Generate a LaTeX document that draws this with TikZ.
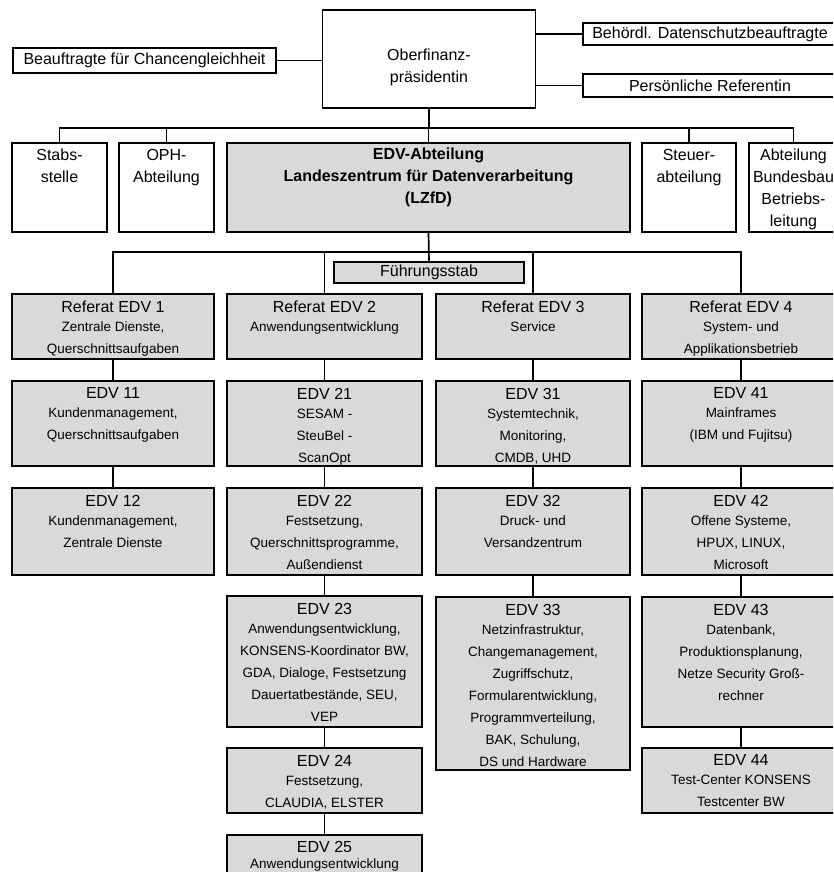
\documentclass[tikz,border=0pt]{standalone}
\usepackage{fontspec}
\setmainfont{Liberation Sans}
\definecolor{boxgray}{RGB}{217,217,217}
\newcommand{\hd}[1]{{\fontsize{16}{22}\selectfont #1}}
\begin{document}
\begin{tikzpicture}[x=1pt, y=-1pt, line width=1.7pt, font=\fontsize{16}{22}\selectfont,
  box/.style={draw, anchor=north, inner sep=0pt, outer sep=0pt},
  unit/.style={box, fill=boxgray},
  big/.style={anchor=north, align=center, inner sep=0pt, yshift=-5pt, font=\fontsize{16}{22}\selectfont},
  txt/.style={anchor=north, align=center, inner sep=0pt, yshift=-6pt, font=\fontsize{13.5}{22}\selectfont}]
\useasboundingbox (0,0) rectangle (833,872);
\clip (0,0) rectangle (833,872);
\node[box, minimum width=213, minimum height=98, label={[big, yshift=-33pt]north:{Oberfinanz-\\präsidentin}}] (ofp) at (429,10) {};
\node[box, minimum width=263, minimum height=25] (beauf) at (144.5,48) {Beauftragte für Chancengleichheit};
\node[box, minimum width=254, minimum height=22] (behoerdl) at (710,23) {Behördl. Datenschutzbeauftragte};
\node[box, minimum width=254, minimum height=23] (pers) at (710,74) {Persönliche Referentin};
\node[box, minimum width=95, minimum height=89, label={[big]north:{Stabs-\\stelle}}] (stab) at (59.5,143) {};
\node[box, minimum width=95, minimum height=89, label={[big]north:{OPH-\\Abteilung}}] (oph) at (166.5,143) {};
\node[unit, minimum width=403, minimum height=89, label={[big, yshift=1pt]north:{\bfseries EDV-Abteilung\\\bfseries Landeszentrum für Datenverarbeitung\\\bfseries (LZfD)}}] (edv) at (428.5,143) {};
\node[box, minimum width=94, minimum height=89, label={[big]north:{Steuer-\\abteilung}}] (steuer) at (689,143) {};
\node[box, minimum width=89, minimum height=89, label={[big]north:{Abteilung\\Bundesbau\\Betriebs-\\leitung}}] (bund) at (793.5,143) {};
\node[unit, minimum width=190, minimum height=21] (fuehr) at (429,262) {Führungsstab};
\node[unit, minimum width=202, minimum height=65, label={[txt]north:{\hd{Referat EDV 1}\\[-3pt]Zentrale Dienste,\\Querschnittsaufgaben}}] (ref1) at (113,294) {};
\node[unit, minimum width=195, minimum height=65, label={[txt]north:{\hd{Referat EDV 2}\\[-3pt]Anwendungsentwicklung}}] (ref2) at (324.5,294) {};
\node[unit, minimum width=194, minimum height=65, label={[txt]north:{\hd{Referat EDV 3}\\[-3pt]Service}}] (ref3) at (533,294) {};
\node[unit, minimum width=198, minimum height=65, label={[txt]north:{\hd{Referat EDV 4}\\[-3pt]System- und\\Applikationsbetrieb}}] (ref4) at (741,294) {};
\node[unit, minimum width=202, minimum height=85, label={[txt]north:{\hd{EDV 11}\\[-3pt]Kundenmanagement,\\Querschnittsaufgaben}}] (edv11) at (113,381) {};
\node[unit, minimum width=202, minimum height=87, label={[txt]north:{\hd{EDV 12}\\[-3pt]Kundenmanagement,\\Zentrale Dienste}}] (edv12) at (113,488) {};
\node[unit, minimum width=195, minimum height=85, label={[txt]north:{\hd{EDV 21}\\[-3pt]SESAM -\\SteuBel -\\ScanOpt}}] (edv21) at (324.5,381) {};
\node[unit, minimum width=195, minimum height=87, label={[txt]north:{\hd{EDV 22}\\[-3pt]Festsetzung,\\Querschnittsprogramme,\\Außendienst}}] (edv22) at (324.5,488) {};
\node[unit, minimum width=195, minimum height=131, label={[txt]north:{\hd{EDV 23}\\[-3pt]Anwendungsentwicklung,\\KONSENS-Koordinator BW,\\GDA, Dialoge, Festsetzung\\Dauertatbestände, SEU,\\VEP}}] (edv23) at (324.5,596) {};
\node[unit, minimum width=195, minimum height=65, label={[txt]north:{\hd{EDV 24}\\[-3pt]Festsetzung,\\CLAUDIA, ELSTER}}] (edv24) at (324.5,748) {};
\node[unit, minimum width=195, minimum height=70, label={[txt, yshift=1pt]north:{\hd{EDV 25}\\[-6pt]Anwendungsentwicklung}}] (edv25) at (324.5,835) {};
\node[unit, minimum width=194, minimum height=85, label={[txt]north:{\hd{EDV 31}\\[-3pt]Systemtechnik,\\Monitoring,\\CMDB, UHD}}] (edv31) at (533,381) {};
\node[unit, minimum width=194, minimum height=87, label={[txt]north:{\hd{EDV 32}\\[-3pt]Druck- und\\Versandzentrum}}] (edv32) at (533,488) {};
\node[unit, minimum width=194, minimum height=173, label={[txt]north:{\hd{EDV 33}\\[-3pt]Netzinfrastruktur,\\Changemanagement,\\Zugriffschutz,\\Formularentwicklung,\\Programmverteilung,\\BAK, Schulung,\\DS und Hardware}}] (edv33) at (533,597) {};
\node[unit, minimum width=198, minimum height=85, label={[txt]north:{\hd{EDV 41}\\[-3pt]Mainframes\\(IBM und Fujitsu)}}] (edv41) at (741,381) {};
\node[unit, minimum width=198, minimum height=87, label={[txt]north:{\hd{EDV 42}\\[-3pt]Offene Systeme,\\HPUX, LINUX,\\Microsoft}}] (edv42) at (741,488) {};
\node[unit, minimum width=198, minimum height=130, label={[txt]north:{\hd{EDV 43}\\[-3pt]Datenbank,\\Produktionsplanung,\\Netze Security Groß-\\rechner}}] (edv43) at (741,597) {};
\node[unit, minimum width=198, minimum height=65, label={[txt]north:{\hd{EDV 44}\\[-3pt]Test-Center KONSENS\\Testcenter BW}}] (edv44) at (741,748) {};
\coordinate (bus1) at (0,128);
\coordinate (bus2) at (0,252);
\draw (beauf.east) -- (beauf.east -| ofp.west);
\draw (ofp.east |- behoerdl) -- (behoerdl.west);
\draw (ofp.east |- pers) -- (pers.west);
\draw (ofp.south) -- (ofp.south |- bus1);
\draw (stab.north) -- (stab.north |- bus1) -- (bund.north |- bus1) -- (bund.north);
\foreach \n in {oph, edv, steuer}
  \draw (\n.north) -- (\n.north |- bus1);
\draw (edv.south) -- (fuehr.north);
\draw (ref1.north) -- (ref1.north |- bus2) -- (ref4.north |- bus2) -- (ref4.north);
\foreach \n in {ref2, ref3}
  \draw (\n.north) -- (\n.north |- bus2);
\draw (ref1) -- (edv11) -- (edv12);
\draw (ref2) -- (edv21) -- (edv22) -- (edv23) -- (edv24) -- (edv25);
\draw (ref3) -- (edv31) -- (edv32) -- (edv33);
\draw (ref4) -- (edv41) -- (edv42) -- (edv43) -- (edv44);
\end{tikzpicture}
\end{document}
